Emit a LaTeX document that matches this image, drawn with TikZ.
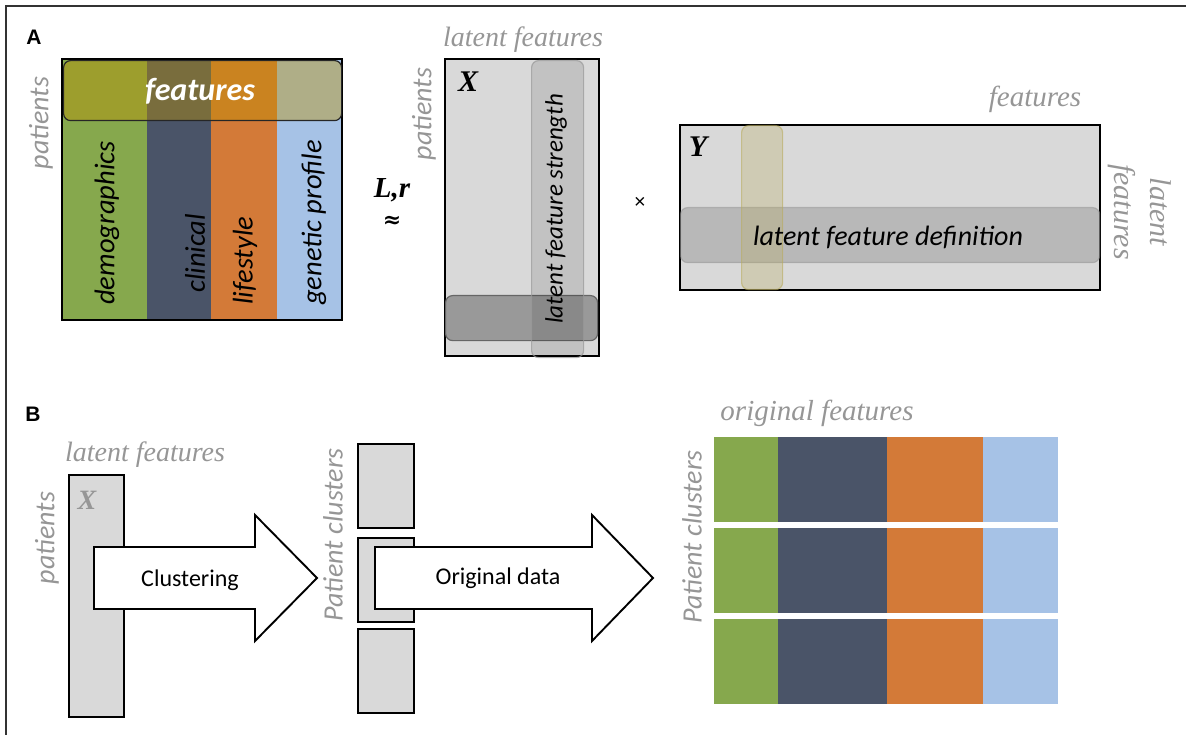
\documentclass[tikz,border=0pt]{standalone}
\usepackage{fontspec}
\setmainfont{Liberation Serif}
\newfontfamily\carl{Carlito}
\newfontfamily\heads{Liberation Sans}
\newfontfamily\dvserif{DejaVu Serif}
\definecolor{cGreen}{RGB}{134,168,77}
\definecolor{cSlate}{RGB}{74,84,104}
\definecolor{cOrange}{RGB}{211,122,56}
\definecolor{cBlue}{RGB}{166,194,230}
\definecolor{labelGray}{RGB}{150,150,150}
\definecolor{matGray}{RGB}{217,217,217}
\definecolor{bandOlive}{RGB}{190,146,0}
\definecolor{bandTan}{RGB}{185,172,95}
\begin{document}
\begin{tikzpicture}
[x=1pt,y=-1pt,%
  matBox/.style={draw,line width=1.9pt,fill=matGray,inner sep=0pt,anchor=north west},%
  colBar/.style={inner sep=0pt,anchor=north west},%
  softBand/.style={rounded corners=7pt,line width=1.2pt,inner sep=0pt,anchor=north west},%
  serifLabel/.style={font=\itshape\fontsize{28}{30}\selectfont,text=labelGray,inner sep=0pt},%
  sansLabel/.style={font=\carl\itshape\fontsize{28}{30}\selectfont,text=labelGray,inner sep=0pt},%
  barText/.style={font=\carl\itshape\fontsize{28.5}{30}\selectfont,inner sep=0pt,rotate=90,anchor=west},%
  matName/.style={font=\bfseries\itshape\fontsize{30}{32}\selectfont,inner sep=0pt},%
  panelTag/.style={font=\heads\bfseries\fontsize{21}{22}\selectfont,inner sep=0pt},%
  blockArrow/.style={draw,fill=white,line width=1.9pt,line join=miter},%
  arrowText/.style={font=\carl\fontsize{24}{26}\selectfont,inner sep=0pt}]
\useasboundingbox (0,0) rectangle (1186,735);
%% frame
\draw[line width=1.8pt,black!80] (6,735) -- (6,6) -- (1186,6);
\node[panelTag] (tagA) at (34,37) {A};
\node[panelTag] (tagB) at (33,414) {B};

%% panel A: data matrix
\foreach \nm/\xa/\w/\col in {demo/61/86pt/cGreen, clin/147/64pt/cSlate, life/211/66pt/cOrange, gene/277/64pt/cBlue}
{
  \node[colBar,fill=\col,minimum width=\w,minimum height=261pt] (\nm) at (\xa,58) {};
}
\node[colBar,draw,line width=1.9pt,minimum width=280pt,minimum height=261pt] (dataMat) at (61,58) {};
\node[softBand,draw=black!85,fill=bandOlive,fill opacity=.41,minimum width=278pt,minimum height=60pt] (featBand) at (63,60) {};
\node[font=\carl\bfseries\itshape\fontsize{32}{34}\selectfont,text=white,inner sep=0pt] (featText) at (200,91) {features};
\foreach \nm/\txt/\x/\y in {demoTxt/demographics/107/305, clinTxt/clinical/195/293, lifeTxt/lifestyle/245/305, geneTxt/genetic profile/314/305}
{
  \node[barText] (\nm) at (\x,\y) {\txt};
}
\node[sansLabel,rotate=90] (patA) at (41,123) {patients};

%% panel A: X matrix
\node[serifLabel] (latX) at (523,40) {latent features};
\node[sansLabel,rotate=90] (patX) at (424,114) {patients};
\node[matBox,minimum width=154pt,minimum height=297pt] (xMat) at (444,58) {};
\node[matName] (xName) at (468,82) {X};
\node[softBand,draw=black!60,fill=black!40,minimum width=152pt,minimum height=45pt] (rowBand) at (445,295) {};
\node[softBand,draw=black!40,draw opacity=.7,fill=black,fill opacity=.1,minimum width=52pt,minimum height=297pt] (strengthBand) at (531,60) {};
\node[barText,anchor=center,font=\carl\itshape\fontsize{25}{27}\selectfont] (strengthTxt) at (556,209) {latent feature strength};
\node[matName,font=\bfseries\itshape\fontsize{29}{31}\selectfont] (lrTxt) at (392,190) {L,r};
\node[inner sep=0pt,font=\dvserif\bfseries\fontsize{22}{22}\selectfont] (approxTxt) at (392,222) {≈};
\node[inner sep=0pt,font=\heads\fontsize{20}{20}\selectfont] (timesTxt) at (640,203) {×};

%% panel A: Y matrix
\node[serifLabel,font=\itshape\fontsize{29}{30}\selectfont] (featY) at (1035,99) {features};
\node[serifLabel,font=\itshape\fontsize{30}{36}\selectfont,rotate=-90,align=center] (latY) at (1140,212) {latent\\features};
\node[matBox,minimum width=420pt,minimum height=165pt] (yMat) at (679,124) {};
\node[matName] (yName) at (698,147) {Y};
\node[softBand,draw=black!40,draw opacity=.6,fill=black,fill opacity=.15,minimum width=419pt,minimum height=55pt] (defBand) at (680,207) {};
\node[softBand,draw=bandTan,draw opacity=.6,fill=bandTan,fill opacity=.3,minimum width=41pt,minimum height=164pt] (tanBand) at (741,125) {};
\node[font=\carl\itshape\fontsize{28}{30}\selectfont,inner sep=0pt] (defTxt) at (888,237) {latent feature definition};

%% panel B: clustering
\node[serifLabel] (latB) at (145,455) {latent features};
\node[sansLabel,rotate=90] (patB) at (47,538) {patients};
\node[matBox,minimum width=55pt,minimum height=242pt] (xBar) at (68,474) {};
\node[matName,text=labelGray,font=\bfseries\itshape\fontsize{28}{30}\selectfont] (xBName) at (87,500) {X};
\draw[blockArrow] (94,547) -- (255,547) -- (255,515) -- (317,578) -- (255,641) -- (255,609) -- (94,609) -- cycle;
\node[arrowText] (clusterTxt) at (190,580) {Clustering};
\node[sansLabel,rotate=90] (pcB) at (333,535) {Patient clusters};
\foreach \nm/\ya in {clA/443, clB/537, clC/628}
{
  \node[matBox,minimum width=56pt,minimum height=84pt] (\nm) at (357,\ya) {};
}
\draw[blockArrow] (375,547) -- (592,547) -- (592,515) -- (653,578) -- (592,641) -- (592,609) -- (375,609) -- cycle;
\node[arrowText] (origTxt) at (498,578) {Original data};

%% panel B: original features per cluster
\node[serifLabel,font=\itshape\fontsize{29}{30}\selectfont] (origFeat) at (817,413) {original features};
\node[sansLabel,rotate=90] (pcC) at (692,537) {Patient clusters};
\foreach \row/\ya in {1/437, 2/528, 3/619}
{
  \foreach \nm/\xa/\w/\col in {g/714/64pt/cGreen, s/778/109pt/cSlate, o/887/96pt/cOrange, b/983/75pt/cBlue}
  {
    \node[colBar,fill=\col,minimum width=\w,minimum height=85pt] (r\row\nm) at (\xa,\ya) {};
  }
}
\end{tikzpicture}
\end{document}
